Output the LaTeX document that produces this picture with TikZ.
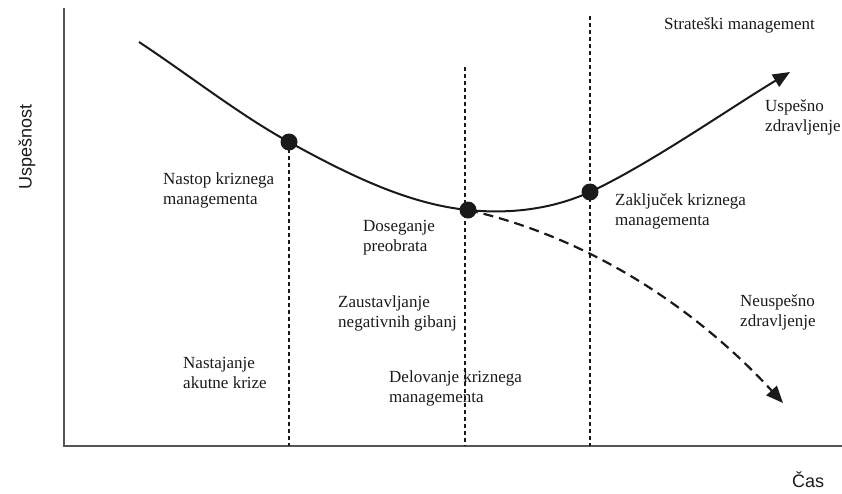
\documentclass[tikz,border=0pt]{standalone}
\usepackage{fontspec}
\setmainfont{Liberation Serif}
\newfontfamily\axisfont{Liberation Sans}
\usetikzlibrary{arrows.meta}
\definecolor{ink}{HTML}{1A1A1A}
\definecolor{axisgray}{HTML}{555555}
\tikzset{
  axisline/.style={draw=axisgray, line width=2pt},
  guide/.style={draw=ink, line width=1.2pt, dash pattern=on 4pt off 3pt},
  trend/.style={draw=ink, line width=2pt, -{Triangle[length=17pt,width=14pt]}},
  failtrend/.style={draw=ink, line width=2.2pt, dash pattern=on 10pt off 6pt, -{Triangle[length=17pt,width=14pt]}},
  milestone/.style={circle, fill=ink, inner sep=0pt, minimum size=17pt},
  lbl/.style={text=ink, anchor=west, align=left, inner sep=0pt, font=\fontsize{17}{20}\selectfont},
  axislbl/.style={text=ink, inner sep=0pt, font=\axisfont\fontsize{18}{20}\selectfont}
}
\begin{document}
\begin{tikzpicture}[x=1pt, y=-1pt]
  \useasboundingbox (0,0) rectangle (842,493);

  % axes
  \coordinate (origin) at (64,446);
  \coordinate (ytop) at (64,8);
  \coordinate (xend) at (842,446);
  \draw[axisline] (ytop) -- (origin) -- (xend);

  % phase boundaries
  \coordinate (g1top) at (289,142);
  \coordinate (g1bot) at (289,446);
  \coordinate (g2top) at (465,67);
  \coordinate (g2bot) at (465,446);
  \coordinate (g3top) at (590,16);
  \coordinate (g3bot) at (590,446);
  \draw[guide] (g1top) -- (g1bot);
  \draw[guide] (g2top) -- (g2bot);
  \draw[guide] (g3top) -- (g3bot);

  % milestones on the curve
  \node[milestone] (start) at (289,142) {};
  \node[milestone] (turn) at (468,210) {};
  \node[milestone] (finish) at (590,192) {};
  \coordinate (begin) at (139,42);
  \coordinate (success) at (790,72);
  \coordinate (failure) at (783,403);

  % success path
  \draw[trend] (begin) .. controls (189,75) and (239,114.5) .. (start.center)
    .. controls (349,175) and (408,204) .. (turn.center)
    .. controls (508,214) and (550,210) .. (finish.center)
    .. controls (650,164) and (730,108) .. (success);

  % failure path
  \draw[failtrend] (turn.center) .. controls (600,240) and (705,318) .. (failure);

  % labels
  \node[lbl] (nastop) at (163,190) {Nastop kriznega\\managementa};
  \node[lbl] (doseg) at (363,238) {Doseganje\\preobrata};
  \node[lbl] (zaklj) at (615,211) {Zaključek kriznega\\managementa};
  \node[lbl] (strat) at (664,25) {Strateški management};
  \node[lbl] (uspesno) at (765,117) {Uspešno\\zdravljenje};
  \node[lbl] (nastaj) at (183,373) {Nastajanje\\akutne krize};
  \node[lbl] (zaust) at (338,313) {Zaustavljanje\\negativnih gibanj};
  \node[lbl] (delov) at (389,388) {Delovanje kriznega\\managementa};
  \node[lbl] (neusp) at (740,312) {Neuspešno\\zdravljenje};

  % axis titles
  \node[axislbl] (cas) at (808,480) {Čas};
  \node[axislbl, rotate=90] (usp) at (27,147) {Uspešnost};
\end{tikzpicture}
\end{document}
